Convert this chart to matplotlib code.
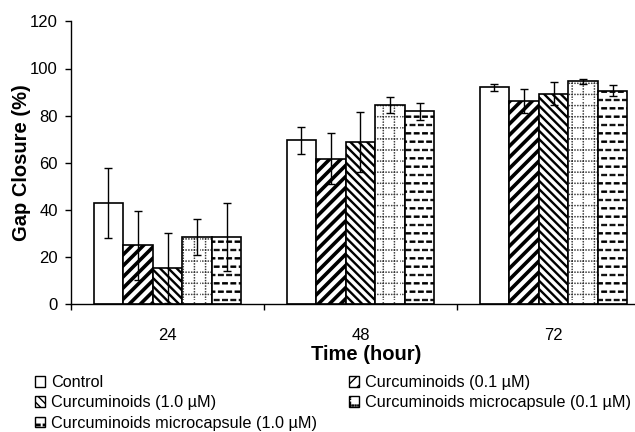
import warnings
import numpy as np
import matplotlib
matplotlib.use('Agg')
import matplotlib.pyplot as plt
import matplotlib.hatch as mhatch
from matplotlib.path import Path
from matplotlib.patches import Patch

warnings.filterwarnings('ignore')
plt.rcParams['font.family'] = ['Liberation Sans', 'DejaVu Sans']

# data
times = ['24', '48', '72']
groups = ['Control', 'Curcuminoids (0.1 µM)', 'Curcuminoids (1.0 µM)',
          'Curcuminoids microcapsule (0.1 µM)', 'Curcuminoids microcapsule (1.0 µM)']
means = [[42.9, 69.6, 92.0],
         [25.0, 61.7, 86.3],
         [15.3, 68.8, 89.2],
         [28.4, 84.6, 94.5],
         [28.4, 81.8, 90.6]]
errs = [[14.7, 5.7, 1.6],
        [14.7, 10.7, 5.1],
        [14.8, 12.6, 4.9],
        [7.7, 3.3, 1.0],
        [14.3, 3.6, 2.2]]


# extra hatch patterns: '_' staggered dashes, ':' dotted grid
class Dashes(mhatch.Shapes):
    filled = True
    size = 1.0

    def __init__(self, hatch, density):
        self.num_rows = 12 if '_' in hatch else 0
        self.shape_vertices = np.array([[-0.3, -0.09], [0.3, -0.09],
                                        [0.3, 0.09], [-0.3, 0.09], [-0.3, -0.09]])
        self.shape_codes = np.array([Path.MOVETO, Path.LINETO, Path.LINETO,
                                     Path.LINETO, Path.CLOSEPOLY])
        super().__init__(hatch, density)


class DottedGrid(mhatch.HatchPatternBase):
    def __init__(self, hatch, density):
        self.n = 9 if ':' in hatch else 0
        self.m = 36
        self.num_vertices = 2 * self.n * self.m * 5

    def set_vertices_and_codes(self, vertices, codes):
        s = 0.005
        sq = np.array([[-s, -s], [s, -s], [s, s], [-s, s], [-s, -s]])
        cc = [Path.MOVETO, Path.LINETO, Path.LINETO, Path.LINETO, Path.CLOSEPOLY]
        k = 0
        for i in range(self.n):
            a = (i + 0.5) / self.n
            for j in range(self.m):
                b = j / self.m
                for px, py in ((b, a), (a, b)):
                    vertices[k:k + 5] = sq + [px, py]
                    codes[k:k + 5] = cc
                    k += 5


mhatch._hatch_types.extend([Dashes, DottedGrid])

hatches = ['', '///', '\\\\\\\\', ':', '_']
hatch_lw = [1.0, 2.6, 1.7, 0.3, 0.6]
hatch_col = ['black', 'black', 'black', '#333333', 'black']

fig = plt.figure(figsize=(6.35, 4.32), dpi=100)
ax = fig.add_axes([71 / 635, 128 / 432, 1 - 71 / 635, (304.3 - 21.7) / 432])

x = np.arange(len(times)) + 0.5
w = 0.153
handles = []
for i, g in enumerate(groups):
    plt.rcParams['hatch.linewidth'] = hatch_lw[i]
    pos = x + (i - 2) * w
    ax.bar(pos, means[i], w, color='white', edgecolor=hatch_col[i], linewidth=0,
           hatch=hatches[i], zorder=2)
    ax.bar(pos, means[i], w, fill=False, edgecolor='black', linewidth=1.2, zorder=2)
    ax.errorbar(pos, means[i], yerr=errs[i], fmt='none', ecolor='black',
                elinewidth=1.0, capsize=3, capthick=1.0, zorder=3)
    handles.append(Patch(facecolor='white', edgecolor='black', linewidth=1.0,
                         hatch=hatches[i]))

ax.set_xlim(0, (635 - 71) / 193)
ax.set_ylim(0, 120)
ax.set_yticks(range(0, 121, 20))
ax.set_xticks([0, 1, 2])
ax.set_xticklabels([])
ax.set_xticks(x, minor=True)
ax.set_xticklabels(times, minor=True, fontsize=12)
ax.tick_params(axis='x', which='minor', length=0, pad=17)
ax.tick_params(axis='x', which='major', direction='out', length=4.5, width=1)
ax.tick_params(axis='y', direction='out', length=4.5, width=1, labelsize=12, pad=5)
for s in ['top', 'right']:
    ax.spines[s].set_visible(False)
for s in ['left', 'bottom']:
    ax.spines[s].set_linewidth(1.0)

ax.set_xlabel('Time (hour)', fontsize=14.5, fontweight='bold')
ax.xaxis.set_label_coords(0.523, -0.145)
ax.set_ylabel('Gap Closure (%)', fontsize=14.5, fontweight='bold')
ax.yaxis.set_label_coords(-0.071, 0.5)

order = [0, 2, 4, 1, 3]
plt.rcParams['hatch.linewidth'] = 1.0
fig.legend([handles[k] for k in order], [groups[k] for k in order],
           loc='upper left', bbox_to_anchor=(35 / 635, 1 - 375 / 432), ncol=2,
           frameon=False, fontsize=11.7, handlelength=0.62, handleheight=0.62,
           handletextpad=0.36, columnspacing=1.95, labelspacing=0.33,
           borderaxespad=0, borderpad=0)

fig.savefig('out.png', dpi=100)
